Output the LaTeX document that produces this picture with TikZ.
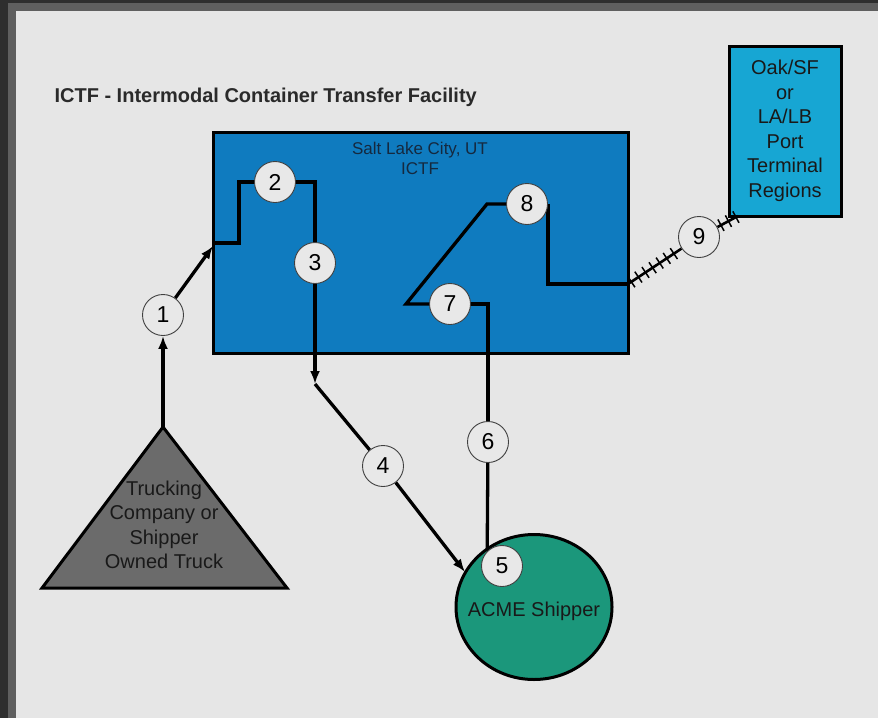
\documentclass[tikz,border=0pt]{standalone}
\usepackage{fontspec}
\setmainfont{Liberation Sans}
\usetikzlibrary{shapes.geometric,arrows.meta,decorations.markings}
\definecolor{outerbg}{HTML}{2E2E2E}
\definecolor{band}{HTML}{5F5F5F}
\definecolor{panel}{HTML}{E6E6E6}
\definecolor{ictfblue}{HTML}{0F7BBF}
\definecolor{portblue}{HTML}{17A6D3}
\definecolor{trigray}{HTML}{6B6B6B}
\definecolor{acmegreen}{HTML}{1B977B}
\definecolor{numfill}{HTML}{E8E8E8}
\definecolor{titlecol}{HTML}{2A2A2A}
\definecolor{navytext}{HTML}{15293F}
\pgfdeclarelayer{bg}
\pgfdeclarelayer{mid}
\pgfsetlayers{bg,mid,main}
\tikzset{
  num/.style={circle, draw=black!75, line width=0.9pt, fill=numfill, minimum size=41pt, inner sep=0pt, font=\fontsize{23}{26}\selectfont},
  conn/.style={line width=3.3pt, line join=miter},
  arr/.style={conn, -{Latex[length=13pt,width=10pt]}},
  rail/.style={line width=2.6pt, postaction={decorate, decoration={markings, mark=between positions 4pt and 0.97 step 8.5pt with {\draw[line width=1.5pt] (0,-6.5pt) -- (0,6.5pt);}}}},
  shapeborder/.style={draw=black, line width=3pt},
  bodytext/.style={font=\fontsize{20}{24.5}\selectfont, align=center}
}
\begin{document}
\begin{tikzpicture}[x=1pt,y=-1pt]
\useasboundingbox (0,0) rectangle (878,718);
\begin{pgfonlayer}{bg}
\fill[outerbg] (0,0) rectangle (878,718);
\fill[band] (8,3) rectangle (878,718);
\fill[panel] (16,11) rectangle (878,718);
\node[anchor=west, text=titlecol, font=\bfseries\fontsize{20}{24}\selectfont] (title) at (51,97) {ICTF - Intermodal Container Transfer Facility};
\node[shapeborder, fill=ictfblue, minimum width=415pt, minimum height=221pt, inner sep=0pt] (ictf) at (421,243) {};
\node[text=navytext, font=\fontsize{17}{20}\selectfont, align=center] (ictflabel) at (420,158) {Salt Lake City, UT\\ICTF};
\node[shapeborder, fill=portblue, minimum width=112pt, minimum height=170pt, inner sep=0pt, text=black!90, bodytext] (port) at (785,131) {Oak/SF\\or\\LA/LB\\Port\\Terminal\\Regions};
\draw[shapeborder, fill=trigray, line join=miter] (42,588) -- (163,427) -- (287,588) -- cycle;
\coordinate (apex) at (163,427);
\node[bodytext, text=black!90] (trucklabel) at (164,525) {Trucking\\Company or\\Shipper\\Owned Truck};
\node[shapeborder, ellipse, fill=acmegreen, minimum width=156pt, minimum height=145pt, inner sep=0pt] (acme) at (534,607) {};
\node[bodytext, text=black!90] (acmelabel) at (534,611) {ACME Shipper};
\end{pgfonlayer}

\node[num] (n1) at (163,315) {1};
\node[num] (n2) at (275,182) {2};
\node[num] (n3) at (315,263) {3};
\node[num] (n4) at (383,466) {4};
\node[num] (n5) at (502,566) {5};
\node[num] (n6) at (488,442) {6};
\node[num] (n7) at (450,304) {7};
\node[num] (n8) at (527,204) {8};
\node[num] (n9) at (699,237) {9};

\coordinate (in1) at (213,246);
\coordinate (in2) at (213,243);
\coordinate (k2a) at (239,243);
\coordinate (k2b) at (239,182);
\coordinate (k2c) at (315,182);
\coordinate (t3) at (315,384);
\coordinate (t4) at (465,572);
\coordinate (k6) at (488,304);
\coordinate (k7) at (406,304);
\coordinate (k8) at (487,204);
\coordinate (rs) at (628,284);
\coordinate (pt) at (738,216);

\begin{pgfonlayer}{mid}
\draw[arr] (apex) -- (n1);
\draw[arr] (n1) -- (in1);
\draw[conn] (in2) -- (k2a) -- (k2b) -- (n2);
\draw[conn] (n2) -- (k2c) -- (n3);
\draw[arr] (n3) -- (t3);
\draw[conn] (t3) -- (n4);
\draw[arr] (n4) -- (t4);
\draw[conn] (n5.135) -- (n6);
\draw[conn] (n6) -- (k6) -- (n7);
\draw[conn] (n7) -- (k7) -- (k8) -- (n8);
\draw[conn] (n8.east) |- (rs);
\draw[rail] (rs) -- (n9);
\draw[rail] (n9) -- (pt);
\end{pgfonlayer}
\end{tikzpicture}
\end{document}
